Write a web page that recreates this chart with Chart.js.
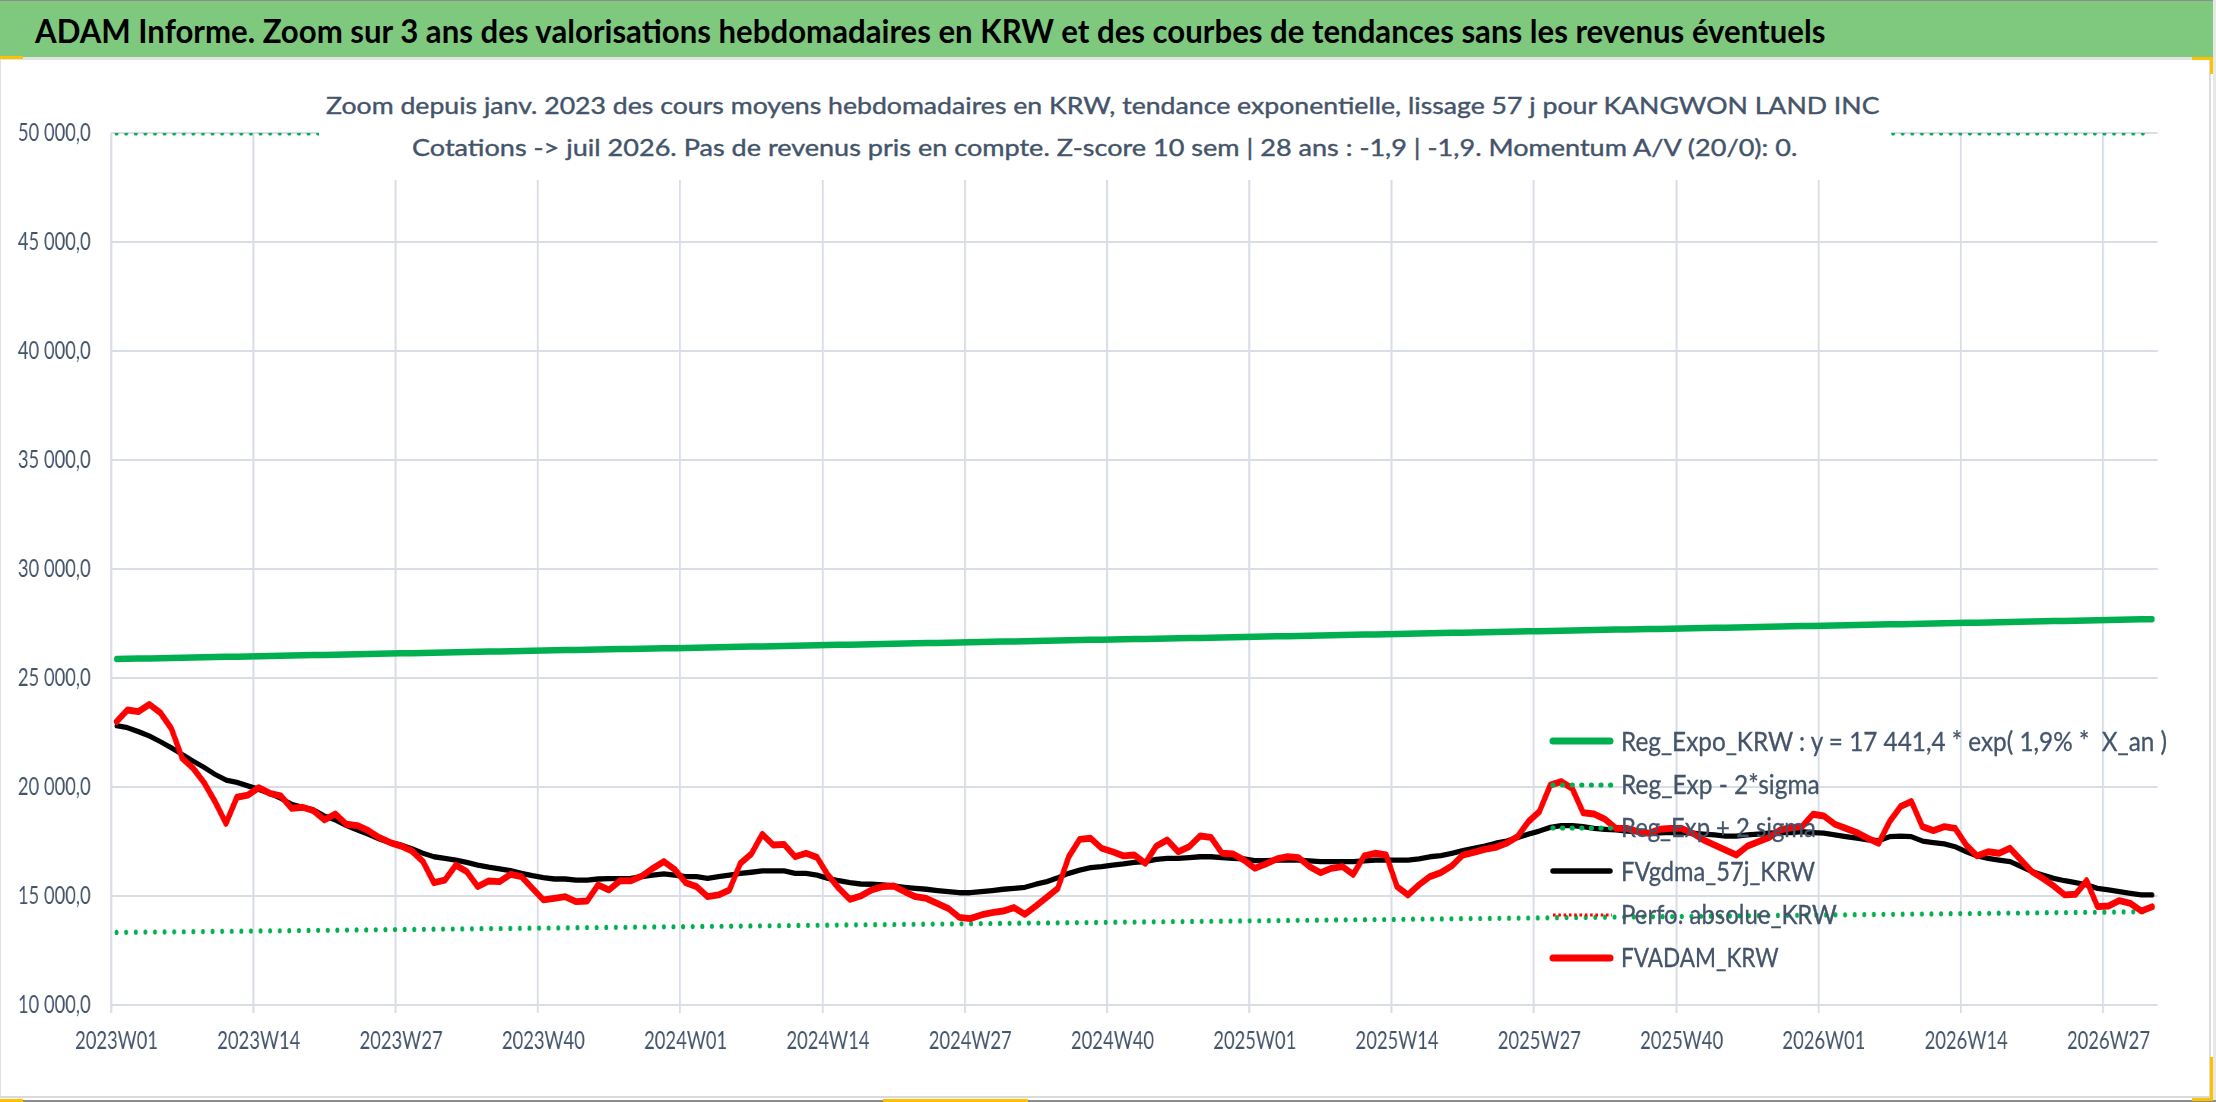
<!DOCTYPE html>
<html><head><meta charset="utf-8">
<script src="https://cdn.jsdelivr.net/npm/chart.js@4.4.1/dist/chart.umd.min.js"></script>
<style>
html,body{margin:0;padding:0;background:#fff;width:2216px;height:1102px;overflow:hidden}
body{position:relative}
.abs{position:absolute}
.txt{position:absolute;white-space:pre;display:inline-block;line-height:1;transform-origin:0 0;left:0;top:0}
.bl{display:inline-block;width:0;height:0;vertical-align:baseline}
#chartBox{position:absolute;left:0;top:61px;height:1030px;transform-origin:0 0}
</style></head><body>
<div class="abs" style="left:0;top:0;width:2216px;height:1px;background:#8c8c8c"></div>
<div class="abs" style="left:0;top:1px;width:2213px;height:56px;background:#7fc97f"></div>
<div class="abs" style="left:0;top:57px;width:2213px;height:3px;background:#e3e3e3"></div>
<div class="abs" style="left:0;top:60px;width:1px;height:1037px;background:#e0e0e0"></div>
<div class="abs" style="left:2209px;top:60px;width:2px;height:1037px;background:#dcdcdc"></div>
<div class="abs" style="left:2213px;top:0;width:3px;height:1102px;background:#e8e8e8"></div>
<div class="abs" style="left:0;top:1096px;width:2213px;height:2px;background:#dadada"></div>
<div class="abs" style="left:0;top:1100px;width:2216px;height:2px;background:#8c8c8c"></div>
<div class="abs" style="left:0;top:56px;width:23px;height:3px;background:#ffc000"></div>
<div class="abs" style="left:2192px;top:57px;width:21px;height:3px;background:#ffc000"></div>
<div class="abs" style="left:2210px;top:57px;width:3px;height:17px;background:#ffc000"></div>
<div class="abs" style="left:0;top:1099px;width:23px;height:3px;background:#ffc000"></div>
<div class="abs" style="left:883px;top:1099px;width:145px;height:3px;background:#ffc000"></div>
<div class="abs" style="left:2192px;top:1098px;width:21px;height:3px;background:#ffc000"></div>
<div class="abs" style="left:2210px;top:1057px;width:3px;height:43px;background:#ffc000"></div>

<div id="chartBox"><canvas id="c"></canvas></div>
<div class="abs" style="left:319px;top:68px;width:1572px;height:112px;background:#fff"></div>
<div id="texts"></div>

<script>
// ---------------- DATA ----------------
const mainTitle = "ADAM Informe. Zoom sur 3 ans des valorisations hebdomadaires en KRW et des courbes de tendances sans les revenus éventuels";
const subtitleLines = [
  "Zoom depuis janv. 2023 des cours moyens hebdomadaires en KRW, tendance exponentielle, lissage 57 j pour KANGWON LAND INC",
  "Cotations -> juil 2026. Pas de revenus pris en compte. Z-score 10 sem | 28 ans : -1,9 | -1,9. Momentum A/V (20/0): 0."
];
const years = [2023, 2024, 2025, 2026];
const weeksPerYear = [52, 52, 52, 31];
const tickEvery = 13;
const yMin = 10000, yMax = 50000, yStep = 5000;

const seriesNames = [
  "Reg_Expo_KRW : y = 17 441,4 * exp( 1,9% *  X_an )",
  "Reg_Exp - 2*sigma",
  "Reg_Exp + 2 sigma",
  "FVgdma_57j_KRW",
  "Perfo. absolue_KRW",
  "FVADAM_KRW"
];

const regExpo = [
25870,25880,25890,25900,25910,25920,25930,25940,25950,25960,
25970,25980,25990,26000,26010,26020,26030,26040,26050,26060,
26070,26080,26090,26100,26110,26120,26130,26140,26150,26160,
26170,26180,26190,26200,26210,26220,26230,26240,26250,26260,
26270,26280,26290,26300,26310,26320,26330,
26330,26340,26350,26360,26370,26380,26390,26400,26410,26420,26430,26440,26450,
26460,26470,26480,26490,26500,26510,26520,26530,26540,26550,
26560,26570,26580,26590,26600,26610,26620,26630,26640,26650,
26660,26670,26680,26690,26700,26710,26720,26730,26740,26750,
26760,26770,26780,26790,
26790,26800,26810,26820,26830,26840,
26850,26860,26870,26880,26890,26900,26910,26920,26930,26940,
26950,26960,26970,26980,26990,27000,27010,27020,27030,27040,
27050,27060,27070,27080,27090,27100,27110,27120,27130,27140,
27150,27160,27170,27180,27190,27200,27210,27220,27230,27240,
27250,
27250,27260,27270,27280,27290,27300,27310,27320,27330,
27340,27350,27360,27370,27380,27390,27400,27410,27420,27430,
27440,27450,27460,27470,27480,27490,27500,27510,27520,27530,
27540,27550,27560,27570,27580,27590,27600,27610,27620,27630,
27640,27650,27660,27670,27680,27690,27700];

const regMinus2Sigma = [
13330,13335,13340,13345,13350,13355,13360,13365,
13371,13376,13381,13386,13391,13396,13401,13406,
13412,13417,13422,13427,13432,13437,13442,13447,
13453,13458,13463,13468,13473,13478,13483,13488,
13494,13499,13504,13509,13514,13519,13524,13529,
13535,13540,13545,13550,13555,13560,13565,13570,
13576,13581,13586,13591,13596,13601,13606,13611,
13617,13622,13627,13632,13637,13642,13647,13652,
13658,13663,13668,13673,13678,13683,13688,13693,
13699,13704,13709,13714,13719,13724,13729,13734,
13740,13745,13750,13755,13760,13765,13770,13775,
13781,13786,13791,13796,13801,13806,13811,13816,
13822,13827,13832,13837,13842,13847,13852,13857,
13863,13868,13873,13878,13883,13888,13893,13898,
13904,13909,13914,13919,13924,13929,13934,13939,
13945,13950,13955,13960,13965,13970,13975,13980,
13986,13991,13996,14001,14006,14011,14016,14021,
14027,14032,14037,14042,14047,14052,14057,14062,
14068,14073,14078,14083,14088,14093,14098,14103,
14109,14114,14119,14124,14129,14134,14139,14144,
14150,14155,14160,14165,14170,14175,14180,14185,
14191,14196,14201,14206,14211,14216,14221,14226,
14232,14237,14242,14247,14252,14257,14262,14267,
14273,14278,14283];

const regPlus2Sigma = [
50200,50220,50230,50250,50270,50290,50300,50320,50340,50360,
50370,50390,50410,50420,50440,50460,50480,50490,50510,50530,
50550,50560,50580,50600,50620,50630,50650,50670,50680,50700,
50720,50740,50750,50770,50790,50810,50820,50840,50860,50870,
50890,50910,50930,50940,50960,50980,51000,51010,51030,51050,
51070,51080,51100,51120,51130,51150,51170,51190,51200,51220,
51240,51260,51270,51290,51310,51320,51340,51360,51380,51390,
51410,51430,51450,51460,51480,51500,51510,51530,51550,51570,
51580,51600,51620,51640,51650,51670,51690,51710,51720,51740,
51760,51770,51790,51810,51830,51840,51860,51880,51900,51910,
51930,51950,51960,51980,52000,52020,52030,52050,52070,52090,
52100,52120,52140,52150,52170,52190,52210,52220,52240,52260,
52280,52290,52310,52330,52350,52360,52380,52400,52410,52430,
52450,52470,52480,52500,52520,52540,52550,52570,52590,52600,
52620,52640,52660,52670,52690,52710,52730,52740,52760,52780,
52800,52810,52830,52850,52860,52880,52900,52920,52930,52950,
52970,52990,53000,53020,53040,53050,53070,53090,53110,53120,
53140,53160,53180,53190,53210,53230,53240,53260,53280,53300,
53310,53330,53350,53370,53380,53400,53420];

const fvGdma57j = [
22810,22720,22540,22340,22080,21800,21500,21190,20900,20580,
20320,20210,20050,19890,19710,19480,19210,19070,18950,18670,
18490,18230,18030,17830,17620,17450,17340,17170,16960,16800,
16730,16650,16540,16420,16320,16240,16160,16040,15930,15840,
15780,15780,15730,15730,15780,15800,15800,15810,15890,15960,
16010,15960,15890,15890,15810,15890,15960,16040,16090,16150,
16150,16150,16040,16040,15960,15810,15700,15610,15550,15540,
15510,15460,15400,15350,15310,15250,15200,15150,15150,15200,
15250,15310,15350,15400,15540,15660,15840,16040,16190,16300,
16350,16420,16470,16540,16580,16680,16730,16730,16760,16800,
16800,16760,16730,16700,16620,16620,16650,16650,16650,16610,
16580,16580,16580,16580,16610,16650,16650,16650,16650,16700,
16800,16850,16960,17080,17190,17290,17420,17520,17680,17840,
17980,18150,18230,18230,18180,18100,18060,18030,17980,17950,
17910,17900,17920,17910,17880,17840,17800,17750,17750,17800,
17840,17880,17910,17910,17950,17910,17880,17800,17720,17650,
17570,17540,17720,17750,17720,17520,17450,17390,17260,17030,
16840,16730,16650,16580,16350,16120,15960,15810,15700,15610,
15510,15350,15280,15200,15120,15050,15050];

const perfoAbsolue = [];

const fvAdam = [
23000,23530,23460,23790,23410,22690,21320,20860,20200,19330,
18330,19530,19630,19970,19710,19590,19020,19070,18910,18490,
18760,18290,18230,18000,17680,17450,17290,17060,16580,15610,
15730,16420,16120,15430,15690,15660,15990,15890,15350,14820,
14890,14970,14740,14770,15510,15280,15700,15700,15920,16270,
16580,16220,15610,15430,14970,15050,15280,16500,16930,17830,
17340,17370,16800,16960,16770,15960,15350,14850,15000,15280,
15430,15460,15200,14970,14890,14660,14430,14020,13960,14130,
14240,14310,14470,14160,14540,14940,15350,16800,17600,17650,
17190,17030,16840,16880,16500,17290,17570,17030,17260,17750,
17690,16960,16930,16650,16270,16470,16700,16800,16760,16350,
16070,16270,16350,15990,16840,16960,16880,15430,15050,15510,
15890,16070,16380,16880,17000,17140,17230,17420,17720,18410,
18870,20090,20250,19940,18820,18760,18520,18100,18100,17950,
17880,18060,18100,18100,17880,17570,17340,17110,16880,17290,
17490,17690,18030,18130,18180,18750,18670,18290,18100,17910,
17650,17420,18410,19100,19330,18180,18000,18180,18100,17340,
16840,17030,16960,17190,16650,16120,15810,15460,15050,15080,
15700,14510,14540,14790,14660,14310,14510];

// ---------------- LAYOUT / STYLE ----------------
const GREEN = '#00b050', RED = '#ff0000', BLACK = '#000000';
const TXT = '#44546a', GRID = '#d9dee6';

const categories = [];
years.forEach((y, k) => { for (let w = 1; w <= weeksPerYear[k]; w++) categories.push(y + 'W' + String(w).padStart(2, '0')); });

function hasFont(name) {
  const c = document.createElement('canvas').getContext('2d');
  const s = '2023W01 mmmmwwiiil 15 000,0 Reg_Expo';
  for (const fb of ['monospace', 'serif']) {
    c.font = '100px ' + fb; const a = c.measureText(s).width;
    c.font = '100px "' + name + '", ' + fb; const b = c.measureText(s).width;
    if (Math.abs(a - b) > 0.5) return true;
  }
  return false;
}
const TEXT_FAMILY = ['Lato', 'Open Sans', 'Roboto', 'Liberation Sans'].find(hasFont) || 'sans-serif';

// Tick font: natural glyph height, then the chart canvas is condensed horizontally
const tickSize = 24.2;
const SX = (function () {
  const c = document.createElement('canvas').getContext('2d');
  c.font = tickSize + 'px "' + TEXT_FAMILY + '"';
  return 83 / c.measureText('2023W01').width;
})();
const CANVAS_W = 2205;              // visible width of the chart box
const box = document.getElementById('chartBox');
box.style.width = (CANVAS_W / SX) + 'px';
box.style.transform = 'scaleX(' + SX + ')';

function fmt(v) {
  const n = Math.round(v).toString();
  const t = n.replace(/\B(?=(\d{3})+(?!\d))/g, ' ');
  return t + ',0';
}

const datasetsCfg = [
  { label: seriesNames[0], data: regExpo, borderColor: GREEN, borderWidth: 6.5, borderCapStyle: 'round' },
  { label: seriesNames[1], data: regMinus2Sigma, borderColor: GREEN, borderWidth: 5.2, borderDash: [0, 9.6], borderCapStyle: 'round' },
  { label: seriesNames[2], data: regPlus2Sigma.map(v => Math.min(v, yMax)), borderColor: GREEN, borderWidth: 5.2, borderDash: [0, 9.6], borderCapStyle: 'round' },
  { label: seriesNames[3], data: fvGdma57j, borderColor: BLACK, borderWidth: 5, borderCapStyle: 'round' },
  { label: seriesNames[4], data: perfoAbsolue, borderColor: RED, borderWidth: 3, borderDash: [2.6, 2.7], borderCapStyle: 'butt' },
  { label: seriesNames[5], data: fvAdam, borderColor: RED, borderWidth: 6.5, borderCapStyle: 'round' }
];
// canvas is condensed by SX: scale dash pattern and widths so they look right on screen
const chartDatasets = datasetsCfg.map((d, i) => Object.assign({}, d, {
  order: datasetsCfg.length - i,
  fill: false, pointRadius: 0, tension: 0, borderJoinStyle: 'round',
  borderDash: d.borderDash ? d.borderDash.map(v => v / SX) : undefined,
  borderWidth: d.label === seriesNames[5] || d.label === seriesNames[3] ? d.borderWidth * 1.06 : d.borderWidth
}));

const chart = new Chart(document.getElementById('c'), {
  type: 'line',
  data: { labels: categories, datasets: chartDatasets },
  options: {
    responsive: true, maintainAspectRatio: false, animation: false,
    layout: { padding: { top: 72, right: 48 / SX, bottom: 0, left: 0 } },
    plugins: { legend: { display: false }, tooltip: { enabled: false }, title: { display: false } },
    elements: { point: { radius: 0 } },
    scales: {
      x: {
        type: 'category', offset: true,
        grid: { offset: true, lineWidth: 2 / SX, drawTicks: true, tickLength: 8,
                color: c => (c.index % tickEvery === 0 ? GRID : 'rgba(0,0,0,0)') },
        border: { display: false },
        ticks: { autoSkip: false, maxRotation: 0, minRotation: 0, padding: 14, color: TXT,
                 font: { family: TEXT_FAMILY, size: tickSize },
                 callback: (v, i) => (i % tickEvery === 0 ? categories[i] : '') },
        afterFit: s => { s.height = 86; }
      },
      y: {
        min: yMin, max: yMax,
        grid: { color: GRID, lineWidth: 2, drawTicks: false },
        border: { display: false },
        ticks: { stepSize: yStep, padding: 20.3 / SX, color: TXT, font: { family: TEXT_FAMILY, size: tickSize },
                 callback: v => fmt(v) },
        afterFit: s => { s.width = 111 / SX; }
      }
    }
  }
});

// ---------------- TEXT (HTML) ----------------
const host = document.getElementById('texts');
function placeText(str, o) {
  const el = document.createElement('div');
  el.className = 'txt';
  el.style.fontFamily = '"' + TEXT_FAMILY + '", sans-serif';
  el.style.fontSize = o.size + 'px';
  el.style.fontWeight = o.bold ? '700' : '400';
  el.style.color = o.color;
  if (o.stroke) el.style.webkitTextStroke = o.stroke + 'px ' + o.color;
  el.style.zIndex = 5;
  el.appendChild(document.createTextNode(str));
  const m = document.createElement('span'); m.className = 'bl'; el.appendChild(m);
  host.appendChild(el);
  const natural = el.offsetWidth;
  const k = o.width / natural;
  const base = m.offsetTop;
  el.style.transform = 'scaleX(' + k + ')';
  const left = (o.centerX !== undefined) ? o.centerX - o.width / 2 : o.left;
  el.style.left = left + 'px';
  el.style.top = (o.baseline - base) + 'px';
  return el;
}

placeText(mainTitle, { left: 35, baseline: 42.7, width: 1790, size: 31.5, bold: true, color: '#000' });
placeText(subtitleLines[0], { centerX: 1103, baseline: 114.3, width: 1554, size: 24, color: TXT, stroke: 0.4 });
placeText(subtitleLines[1], { centerX: 1104.5, baseline: 155.7, width: 1385, size: 24, color: TXT, stroke: 0.4 });

// Legend built from the chart's datasets
const legBaselines = [750.7, 794, 837.3, 880.7, 924, 967.3];
const legWidths = [546, 198.6, 195, 194, 216, 157.5];
datasetsCfg.forEach((ds, i) => {
  const b = legBaselines[i];
  const cy = b - 9.5;
  const svgNS = 'http://www.w3.org/2000/svg';
  const svg = document.createElementNS(svgNS, 'svg');
  svg.setAttribute('width', '80'); svg.setAttribute('height', '24');
  svg.style.position = 'absolute'; svg.style.left = '1542px'; svg.style.top = (cy - 12) + 'px'; svg.style.zIndex = 5;
  const ln = document.createElementNS(svgNS, 'line');
  const solid = !ds.borderDash;
  ln.setAttribute('x1', 11); ln.setAttribute('x2', solid ? 68 : 70);
  ln.setAttribute('y1', 12); ln.setAttribute('y2', 12);
  ln.setAttribute('stroke', ds.borderColor);
  ln.setAttribute('stroke-width', ds.borderWidth + (solid ? 0.5 : 0));
  ln.setAttribute('stroke-linecap', ds.borderCapStyle || 'butt');
  if (ds.borderDash) ln.setAttribute('stroke-dasharray', ds.borderDash.join(' '));
  svg.appendChild(ln);
  host.appendChild(svg);
  placeText(ds.label, { left: 1621, baseline: b, width: legWidths[i], size: 26.5, color: TXT, stroke: 0.3 });
});
</script>
</body></html>
